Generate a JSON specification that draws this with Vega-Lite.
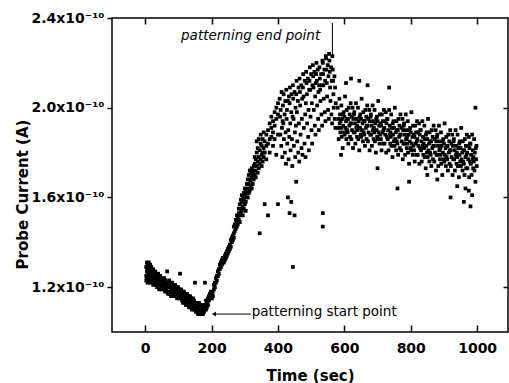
{
"$schema":"https://vega.github.io/schema/vega-lite/v6.json",
"width":396,"height":314,
"autosize":{"type":"none"},
"padding":{"left":112,"top":18,"right":1,"bottom":51},
"background":"white",
"config":{"view":{"stroke":"black","strokeWidth":1.5},"font":"DejaVu Sans"},
"datasets":{"probe":[
{"t":3,"i":1.29e-10},{"t":3,"i":1.25e-10},{"t":3,"i":1.23e-10},
{"t":5,"i":1.31e-10},{"t":5,"i":1.27e-10},{"t":5,"i":1.24e-10},
{"t":7,"i":1.28e-10},{"t":7,"i":1.30e-10},{"t":7,"i":1.22e-10},
{"t":9,"i":1.26e-10},{"t":9,"i":1.29e-10},{"t":9,"i":1.23e-10},
{"t":11,"i":1.31e-10},{"t":11,"i":1.25e-10},{"t":11,"i":1.27e-10},
{"t":13,"i":1.28e-10},{"t":13,"i":1.24e-10},{"t":13,"i":1.22e-10},
{"t":15,"i":1.30e-10},{"t":15,"i":1.26e-10},{"t":15,"i":1.23e-10},
{"t":18,"i":1.27e-10},{"t":18,"i":1.24e-10},{"t":18,"i":1.29e-10},
{"t":21,"i":1.25e-10},{"t":21,"i":1.22e-10},{"t":21,"i":1.27e-10},
{"t":24,"i":1.28e-10},{"t":24,"i":1.23e-10},{"t":24,"i":1.21e-10},
{"t":27,"i":1.26e-10},{"t":27,"i":1.24e-10},{"t":27,"i":1.22e-10},
{"t":30,"i":1.27e-10},{"t":30,"i":1.23e-10},{"t":30,"i":1.21e-10},
{"t":33,"i":1.25e-10},{"t":33,"i":1.22e-10},{"t":33,"i":1.26e-10},
{"t":36,"i":1.24e-10},{"t":36,"i":1.21e-10},{"t":36,"i":1.20e-10},
{"t":39,"i":1.26e-10},{"t":39,"i":1.23e-10},{"t":39,"i":1.22e-10},
{"t":42,"i":1.24e-10},{"t":42,"i":1.21e-10},{"t":42,"i":1.19e-10},
{"t":45,"i":1.25e-10},{"t":45,"i":1.22e-10},{"t":45,"i":1.23e-10},
{"t":48,"i":1.23e-10},{"t":48,"i":1.20e-10},{"t":48,"i":1.21e-10},
{"t":51,"i":1.24e-10},{"t":51,"i":1.22e-10},{"t":51,"i":1.19e-10},
{"t":54,"i":1.22e-10},{"t":54,"i":1.20e-10},{"t":54,"i":1.23e-10},
{"t":57,"i":1.21e-10},{"t":57,"i":1.24e-10},{"t":57,"i":1.19e-10},
{"t":60,"i":1.23e-10},{"t":60,"i":1.20e-10},{"t":60,"i":1.18e-10},
{"t":63,"i":1.22e-10},{"t":63,"i":1.19e-10},{"t":63,"i":1.21e-10},
{"t":66,"i":1.27e-10},{"t":66,"i":1.21e-10},{"t":66,"i":1.18e-10},
{"t":69,"i":1.22e-10},{"t":69,"i":1.20e-10},{"t":69,"i":1.17e-10},
{"t":72,"i":1.21e-10},{"t":72,"i":1.18e-10},{"t":72,"i":1.23e-10},
{"t":75,"i":1.20e-10},{"t":75,"i":1.17e-10},{"t":75,"i":1.22e-10},
{"t":78,"i":1.21e-10},{"t":78,"i":1.19e-10},{"t":78,"i":1.16e-10},
{"t":81,"i":1.20e-10},{"t":81,"i":1.18e-10},{"t":81,"i":1.22e-10},
{"t":84,"i":1.19e-10},{"t":84,"i":1.17e-10},{"t":84,"i":1.21e-10},
{"t":87,"i":1.20e-10},{"t":87,"i":1.16e-10},{"t":87,"i":1.18e-10},
{"t":90,"i":1.21e-10},{"t":90,"i":1.19e-10},{"t":90,"i":1.17e-10},
{"t":93,"i":1.18e-10},{"t":93,"i":1.16e-10},{"t":93,"i":1.20e-10},
{"t":96,"i":1.19e-10},{"t":96,"i":1.17e-10},{"t":96,"i":1.15e-10},
{"t":99,"i":1.20e-10},{"t":99,"i":1.18e-10},{"t":99,"i":1.16e-10},
{"t":102,"i":1.17e-10},{"t":102,"i":1.19e-10},{"t":102,"i":1.15e-10},
{"t":105,"i":1.26e-10},{"t":105,"i":1.18e-10},{"t":105,"i":1.16e-10},
{"t":108,"i":1.17e-10},{"t":108,"i":1.15e-10},{"t":108,"i":1.19e-10},
{"t":111,"i":1.18e-10},{"t":111,"i":1.16e-10},{"t":111,"i":1.14e-10},
{"t":114,"i":1.17e-10},{"t":114,"i":1.15e-10},{"t":114,"i":1.13e-10},
{"t":117,"i":1.16e-10},{"t":117,"i":1.18e-10},{"t":117,"i":1.14e-10},
{"t":120,"i":1.15e-10},{"t":120,"i":1.17e-10},{"t":120,"i":1.13e-10},
{"t":123,"i":1.16e-10},{"t":123,"i":1.14e-10},{"t":123,"i":1.12e-10},
{"t":126,"i":1.15e-10},{"t":126,"i":1.17e-10},{"t":126,"i":1.13e-10},
{"t":129,"i":1.14e-10},{"t":129,"i":1.16e-10},{"t":129,"i":1.12e-10},
{"t":132,"i":1.15e-10},{"t":132,"i":1.13e-10},{"t":132,"i":1.11e-10},
{"t":135,"i":1.14e-10},{"t":135,"i":1.12e-10},{"t":135,"i":1.16e-10},
{"t":138,"i":1.13e-10},{"t":138,"i":1.11e-10},{"t":138,"i":1.15e-10},
{"t":141,"i":1.14e-10},{"t":141,"i":1.12e-10},{"t":141,"i":1.10e-10},
{"t":144,"i":1.13e-10},{"t":144,"i":1.11e-10},{"t":144,"i":1.15e-10},
{"t":147,"i":1.12e-10},{"t":147,"i":1.10e-10},{"t":147,"i":1.14e-10},
{"t":150,"i":1.22e-10},{"t":150,"i":1.13e-10},{"t":150,"i":1.11e-10},
{"t":153,"i":1.12e-10},{"t":153,"i":1.10e-10},{"t":153,"i":1.09e-10},
{"t":156,"i":1.13e-10},{"t":156,"i":1.11e-10},{"t":156,"i":1.09e-10},
{"t":159,"i":1.12e-10},{"t":159,"i":1.10e-10},{"t":159,"i":1.08e-10},
{"t":162,"i":1.11e-10},{"t":162,"i":1.09e-10},{"t":162,"i":1.13e-10},
{"t":165,"i":1.10e-10},{"t":165,"i":1.08e-10},{"t":165,"i":1.12e-10},
{"t":168,"i":1.11e-10},{"t":168,"i":1.09e-10},{"t":168,"i":1.08e-10},
{"t":171,"i":1.10e-10},{"t":171,"i":1.08e-10},{"t":171,"i":1.12e-10},
{"t":174,"i":1.09e-10},{"t":174,"i":1.11e-10},{"t":174,"i":1.08e-10},
{"t":177,"i":1.10e-10},{"t":177,"i":1.09e-10},{"t":177,"i":1.12e-10},
{"t":180,"i":1.22e-10},{"t":180,"i":1.11e-10},{"t":180,"i":1.10e-10},
{"t":183,"i":1.12e-10},{"t":183,"i":1.10e-10},{"t":183,"i":1.14e-10},
{"t":186,"i":1.13e-10},{"t":186,"i":1.11e-10},
{"t":189,"i":1.15e-10},{"t":189,"i":1.12e-10},
{"t":192,"i":1.14e-10},{"t":192,"i":1.16e-10},
{"t":195,"i":1.15e-10},{"t":195,"i":1.17e-10},
{"t":198,"i":1.16e-10},{"t":198,"i":1.18e-10},
{"t":201,"i":1.17e-10},{"t":201,"i":1.15e-10},
{"t":204,"i":1.18e-10},{"t":204,"i":1.16e-10},
{"t":207,"i":1.19e-10},{"t":207,"i":1.21e-10},
{"t":210,"i":1.20e-10},{"t":210,"i":1.22e-10},
{"t":213,"i":1.22e-10},{"t":213,"i":1.24e-10},
{"t":216,"i":1.23e-10},{"t":216,"i":1.25e-10},
{"t":219,"i":1.25e-10},{"t":219,"i":1.27e-10},
{"t":222,"i":1.26e-10},{"t":222,"i":1.28e-10},
{"t":225,"i":1.28e-10},{"t":225,"i":1.30e-10},
{"t":228,"i":1.29e-10},{"t":228,"i":1.31e-10},
{"t":231,"i":1.30e-10},{"t":231,"i":1.32e-10},
{"t":234,"i":1.31e-10},{"t":234,"i":1.33e-10},
{"t":237,"i":1.33e-10},{"t":237,"i":1.31e-10},
{"t":240,"i":1.34e-10},{"t":240,"i":1.32e-10},
{"t":243,"i":1.35e-10},{"t":243,"i":1.33e-10},
{"t":246,"i":1.34e-10},{"t":246,"i":1.36e-10},
{"t":249,"i":1.37e-10},{"t":249,"i":1.35e-10},
{"t":252,"i":1.36e-10},{"t":252,"i":1.38e-10},
{"t":255,"i":1.39e-10},{"t":255,"i":1.37e-10},
{"t":258,"i":1.38e-10},{"t":258,"i":1.41e-10},
{"t":261,"i":1.40e-10},{"t":261,"i":1.42e-10},
{"t":264,"i":1.41e-10},{"t":264,"i":1.43e-10},
{"t":267,"i":1.44e-10},{"t":267,"i":1.42e-10},{"t":267,"i":1.47e-10},
{"t":270,"i":1.45e-10},{"t":270,"i":1.48e-10},
{"t":273,"i":1.46e-10},{"t":273,"i":1.50e-10},
{"t":276,"i":1.49e-10},{"t":276,"i":1.52e-10},{"t":276,"i":1.47e-10},
{"t":279,"i":1.51e-10},{"t":279,"i":1.48e-10},
{"t":282,"i":1.53e-10},{"t":282,"i":1.50e-10},{"t":282,"i":1.55e-10},
{"t":285,"i":1.52e-10},{"t":285,"i":1.57e-10},{"t":285,"i":1.49e-10},
{"t":288,"i":1.55e-10},{"t":288,"i":1.59e-10},{"t":288,"i":1.53e-10},
{"t":291,"i":1.58e-10},{"t":291,"i":1.54e-10},{"t":291,"i":1.61e-10},
{"t":294,"i":1.56e-10},{"t":294,"i":1.60e-10},{"t":294,"i":1.52e-10},
{"t":297,"i":1.59e-10},{"t":297,"i":1.62e-10},{"t":297,"i":1.55e-10},
{"t":300,"i":1.61e-10},{"t":300,"i":1.57e-10},{"t":300,"i":1.64e-10},
{"t":303,"i":1.58e-10},{"t":303,"i":1.63e-10},{"t":303,"i":1.54e-10},
{"t":306,"i":1.62e-10},{"t":306,"i":1.66e-10},{"t":306,"i":1.60e-10},
{"t":309,"i":1.64e-10},{"t":309,"i":1.60e-10},{"t":309,"i":1.68e-10},
{"t":312,"i":1.66e-10},{"t":312,"i":1.62e-10},{"t":312,"i":1.70e-10},
{"t":315,"i":1.63e-10},{"t":315,"i":1.68e-10},{"t":315,"i":1.72e-10},
{"t":318,"i":1.67e-10},{"t":318,"i":1.71e-10},{"t":318,"i":1.65e-10},
{"t":321,"i":1.69e-10},{"t":321,"i":1.73e-10},{"t":321,"i":1.64e-10},
{"t":324,"i":1.72e-10},{"t":324,"i":1.66e-10},{"t":324,"i":1.70e-10},
{"t":327,"i":1.68e-10},{"t":327,"i":1.74e-10},{"t":327,"i":1.71e-10},
{"t":330,"i":1.75e-10},{"t":330,"i":1.70e-10},{"t":330,"i":1.78e-10},
{"t":333,"i":1.72e-10},{"t":333,"i":1.77e-10},{"t":333,"i":1.69e-10},
{"t":336,"i":1.80e-10},{"t":336,"i":1.74e-10},{"t":336,"i":1.85e-10},
{"t":339,"i":1.76e-10},{"t":339,"i":1.82e-10},{"t":339,"i":1.71e-10},
{"t":342,"i":1.78e-10},{"t":342,"i":1.86e-10},{"t":342,"i":1.73e-10},
{"t":345,"i":1.81e-10},{"t":345,"i":1.75e-10},{"t":345,"i":1.44e-10},
{"t":348,"i":1.84e-10},{"t":348,"i":1.77e-10},{"t":348,"i":1.88e-10},
{"t":351,"i":1.79e-10},{"t":351,"i":1.83e-10},{"t":351,"i":1.74e-10},
{"t":354,"i":1.86e-10},{"t":354,"i":1.80e-10},{"t":354,"i":1.76e-10},
{"t":357,"i":1.82e-10},{"t":357,"i":1.89e-10},{"t":357,"i":1.78e-10},
{"t":360,"i":1.85e-10},{"t":360,"i":1.80e-10},{"t":360,"i":1.57e-10},
{"t":365,"i":1.88e-10},{"t":365,"i":1.83e-10},{"t":365,"i":1.77e-10},
{"t":370,"i":1.90e-10},{"t":370,"i":1.84e-10},{"t":370,"i":1.52e-10},
{"t":375,"i":1.86e-10},{"t":375,"i":1.93e-10},{"t":375,"i":1.80e-10},
{"t":380,"i":1.91e-10},{"t":380,"i":1.87e-10},{"t":380,"i":1.96e-10},
{"t":385,"i":1.94e-10},{"t":385,"i":1.89e-10},{"t":385,"i":1.83e-10},
{"t":390,"i":1.98e-10},{"t":390,"i":1.92e-10},{"t":390,"i":1.86e-10},
{"t":395,"i":1.95e-10},{"t":395,"i":2.00e-10},{"t":395,"i":1.79e-10},
{"t":400,"i":2.02e-10},{"t":400,"i":1.97e-10},{"t":400,"i":1.57e-10},{"t":400,"i":1.88e-10},
{"t":405,"i":2.04e-10},{"t":406,"i":1.96e-10},{"t":407,"i":1.88e-10},{"t":408,"i":1.99e-10},{"t":410,"i":1.83e-10},{"t":411,"i":2.07e-10},{"t":412,"i":1.91e-10},{"t":413,"i":1.78e-10},{"t":414,"i":1.94e-10},
{"t":415,"i":2.01e-10},{"t":416,"i":1.93e-10},{"t":417,"i":2.06e-10},{"t":418,"i":1.86e-10},{"t":420,"i":1.97e-10},{"t":421,"i":1.80e-10},{"t":422,"i":2.03e-10},{"t":423,"i":1.89e-10},{"t":424,"i":1.75e-10},
{"t":425,"i":2.08e-10},{"t":426,"i":1.95e-10},{"t":427,"i":1.99e-10},{"t":428,"i":1.84e-10},{"t":430,"i":2.03e-10},{"t":431,"i":1.90e-10},{"t":432,"i":1.77e-10},{"t":433,"i":2.05e-10},{"t":434,"i":1.87e-10},
{"t":435,"i":2.02e-10},{"t":436,"i":2.09e-10},{"t":437,"i":1.93e-10},{"t":438,"i":1.81e-10},{"t":440,"i":1.98e-10},{"t":441,"i":2.06e-10},{"t":442,"i":1.86e-10},{"t":443,"i":1.74e-10},{"t":444,"i":1.96e-10},
{"t":445,"i":2.10e-10},{"t":446,"i":2.04e-10},{"t":447,"i":1.95e-10},{"t":448,"i":1.83e-10},{"t":450,"i":2.07e-10},{"t":451,"i":1.89e-10},{"t":452,"i":1.78e-10},{"t":453,"i":2.00e-10},{"t":454,"i":1.92e-10},
{"t":455,"i":2.06e-10},{"t":456,"i":2.12e-10},{"t":457,"i":1.98e-10},{"t":458,"i":1.85e-10},{"t":460,"i":2.03e-10},{"t":461,"i":1.80e-10},{"t":462,"i":2.09e-10},{"t":463,"i":1.93e-10},{"t":464,"i":1.76e-10},
{"t":465,"i":2.13e-10},{"t":466,"i":2.07e-10},{"t":467,"i":2.01e-10},{"t":468,"i":1.88e-10},{"t":470,"i":2.10e-10},{"t":471,"i":1.82e-10},{"t":472,"i":1.95e-10},{"t":473,"i":2.04e-10},{"t":474,"i":1.79e-10},
{"t":475,"i":2.09e-10},{"t":476,"i":2.15e-10},{"t":477,"i":2.05e-10},{"t":478,"i":1.91e-10},{"t":480,"i":1.84e-10},{"t":481,"i":2.12e-10},{"t":482,"i":1.97e-10},{"t":483,"i":1.78e-10},{"t":484,"i":2.02e-10},
{"t":485,"i":2.16e-10},{"t":486,"i":2.11e-10},{"t":487,"i":2.06e-10},{"t":488,"i":1.93e-10},{"t":490,"i":2.13e-10},{"t":491,"i":1.87e-10},{"t":492,"i":1.99e-10},{"t":493,"i":1.81e-10},{"t":494,"i":2.08e-10},
{"t":495,"i":2.12e-10},{"t":496,"i":2.18e-10},{"t":497,"i":2.08e-10},{"t":498,"i":1.96e-10},{"t":500,"i":2.15e-10},{"t":501,"i":1.90e-10},{"t":502,"i":2.02e-10},{"t":503,"i":1.84e-10},{"t":504,"i":2.10e-10},
{"t":505,"i":2.19e-10},{"t":506,"i":2.14e-10},{"t":507,"i":2.09e-10},{"t":508,"i":1.99e-10},{"t":510,"i":2.16e-10},{"t":511,"i":1.92e-10},{"t":512,"i":2.05e-10},{"t":513,"i":1.88e-10},{"t":514,"i":2.11e-10},
{"t":515,"i":2.15e-10},{"t":516,"i":2.20e-10},{"t":517,"i":2.12e-10},{"t":518,"i":2.01e-10},{"t":520,"i":2.17e-10},{"t":521,"i":1.95e-10},{"t":522,"i":2.07e-10},{"t":523,"i":1.90e-10},{"t":524,"i":2.10e-10},
{"t":525,"i":2.18e-10},{"t":526,"i":2.13e-10},{"t":527,"i":2.08e-10},{"t":528,"i":2.03e-10},{"t":530,"i":2.15e-10},{"t":531,"i":1.97e-10},{"t":532,"i":2.10e-10},{"t":533,"i":1.92e-10},{"t":534,"i":2.21e-10},
{"t":535,"i":2.20e-10},{"t":536,"i":2.15e-10},{"t":537,"i":2.10e-10},{"t":538,"i":2.04e-10},{"t":540,"i":2.17e-10},{"t":541,"i":1.98e-10},{"t":542,"i":2.12e-10},{"t":543,"i":1.94e-10},{"t":544,"i":2.23e-10},
{"t":545,"i":2.22e-10},{"t":546,"i":2.17e-10},{"t":547,"i":2.11e-10},{"t":548,"i":2.05e-10},{"t":550,"i":2.19e-10},{"t":551,"i":1.99e-10},{"t":552,"i":2.14e-10},{"t":553,"i":1.95e-10},{"t":554,"i":2.24e-10},
{"t":555,"i":2.21e-10},{"t":556,"i":2.16e-10},{"t":557,"i":2.09e-10},{"t":558,"i":2.03e-10},{"t":560,"i":2.18e-10},{"t":561,"i":1.97e-10},{"t":562,"i":2.12e-10},{"t":563,"i":1.93e-10},{"t":564,"i":2.23e-10},
{"t":565,"i":2.17e-10},{"t":566,"i":2.12e-10},{"t":567,"i":2.06e-10},{"t":568,"i":2.00e-10},{"t":570,"i":2.14e-10},{"t":571,"i":1.95e-10},{"t":572,"i":2.09e-10},{"t":573,"i":1.91e-10},{"t":574,"i":2.02e-10},
{"t":430,"i":1.60e-10},{"t":435,"i":1.53e-10},{"t":440,"i":1.58e-10},{"t":445,"i":1.29e-10},{"t":450,"i":1.52e-10},{"t":455,"i":1.67e-10},{"t":535,"i":1.53e-10},{"t":535,"i":1.47e-10},
{"t":580,"i":2.00e-10},{"t":581,"i":1.91e-10},{"t":582,"i":1.95e-10},{"t":583,"i":1.86e-10},{"t":585,"i":2.04e-10},{"t":586,"i":1.93e-10},{"t":587,"i":1.97e-10},{"t":588,"i":1.89e-10},{"t":589,"i":1.94e-10},
{"t":590,"i":1.91e-10},{"t":591,"i":2.01e-10},{"t":592,"i":1.87e-10},{"t":593,"i":1.95e-10},{"t":595,"i":1.82e-10},{"t":596,"i":1.97e-10},{"t":597,"i":1.92e-10},{"t":598,"i":1.98e-10},{"t":599,"i":1.89e-10},
{"t":600,"i":1.96e-10},{"t":601,"i":1.88e-10},{"t":602,"i":2.05e-10},{"t":603,"i":1.91e-10},{"t":605,"i":1.94e-10},{"t":606,"i":1.86e-10},{"t":607,"i":1.99e-10},{"t":608,"i":1.90e-10},{"t":609,"i":1.95e-10},
{"t":610,"i":1.89e-10},{"t":611,"i":1.95e-10},{"t":612,"i":1.84e-10},{"t":613,"i":2.00e-10},{"t":615,"i":1.92e-10},{"t":616,"i":1.97e-10},{"t":617,"i":1.87e-10},{"t":618,"i":1.93e-10},{"t":619,"i":2.02e-10},
{"t":620,"i":1.93e-10},{"t":621,"i":1.86e-10},{"t":622,"i":1.96e-10},{"t":623,"i":1.90e-10},{"t":625,"i":2.00e-10},{"t":626,"i":1.82e-10},{"t":627,"i":1.95e-10},{"t":628,"i":1.89e-10},{"t":629,"i":1.97e-10},
{"t":630,"i":1.98e-10},{"t":631,"i":1.89e-10},{"t":632,"i":1.93e-10},{"t":633,"i":1.84e-10},{"t":635,"i":2.02e-10},{"t":636,"i":1.91e-10},{"t":637,"i":1.95e-10},{"t":638,"i":1.87e-10},{"t":639,"i":1.92e-10},
{"t":640,"i":1.90e-10},{"t":641,"i":2.00e-10},{"t":642,"i":1.86e-10},{"t":643,"i":1.94e-10},{"t":645,"i":1.81e-10},{"t":646,"i":1.96e-10},{"t":647,"i":1.91e-10},{"t":648,"i":1.97e-10},{"t":649,"i":1.88e-10},
{"t":650,"i":1.95e-10},{"t":651,"i":1.87e-10},{"t":652,"i":2.04e-10},{"t":653,"i":1.90e-10},{"t":655,"i":1.93e-10},{"t":656,"i":1.85e-10},{"t":657,"i":1.98e-10},{"t":658,"i":1.89e-10},{"t":659,"i":1.94e-10},
{"t":660,"i":1.88e-10},{"t":661,"i":1.94e-10},{"t":662,"i":1.83e-10},{"t":663,"i":1.99e-10},{"t":665,"i":1.91e-10},{"t":666,"i":1.96e-10},{"t":667,"i":1.86e-10},{"t":668,"i":1.92e-10},{"t":669,"i":2.01e-10},
{"t":670,"i":1.92e-10},{"t":671,"i":1.85e-10},{"t":672,"i":1.95e-10},{"t":673,"i":1.89e-10},{"t":675,"i":1.99e-10},{"t":676,"i":1.81e-10},{"t":677,"i":1.94e-10},{"t":678,"i":1.88e-10},{"t":679,"i":1.96e-10},
{"t":680,"i":1.97e-10},{"t":681,"i":1.88e-10},{"t":682,"i":1.92e-10},{"t":683,"i":1.83e-10},{"t":685,"i":2.01e-10},{"t":686,"i":1.90e-10},{"t":687,"i":1.94e-10},{"t":688,"i":1.86e-10},{"t":689,"i":1.91e-10},
{"t":690,"i":1.89e-10},{"t":691,"i":1.99e-10},{"t":692,"i":1.85e-10},{"t":693,"i":1.93e-10},{"t":695,"i":1.80e-10},{"t":696,"i":1.95e-10},{"t":697,"i":1.90e-10},{"t":698,"i":1.96e-10},{"t":699,"i":1.87e-10},
{"t":700,"i":1.94e-10},{"t":701,"i":1.86e-10},{"t":702,"i":2.03e-10},{"t":703,"i":1.89e-10},{"t":705,"i":1.92e-10},{"t":706,"i":1.84e-10},{"t":707,"i":1.97e-10},{"t":708,"i":1.88e-10},{"t":709,"i":1.93e-10},
{"t":710,"i":1.86e-10},{"t":711,"i":1.92e-10},{"t":712,"i":1.81e-10},{"t":713,"i":1.97e-10},{"t":715,"i":1.89e-10},{"t":716,"i":1.94e-10},{"t":717,"i":1.84e-10},{"t":718,"i":1.90e-10},{"t":719,"i":1.99e-10},
{"t":720,"i":1.91e-10},{"t":721,"i":1.84e-10},{"t":722,"i":1.94e-10},{"t":723,"i":1.88e-10},{"t":725,"i":1.98e-10},{"t":726,"i":1.80e-10},{"t":727,"i":1.93e-10},{"t":728,"i":1.87e-10},{"t":729,"i":1.95e-10},
{"t":730,"i":1.95e-10},{"t":731,"i":1.86e-10},{"t":732,"i":1.90e-10},{"t":733,"i":1.81e-10},{"t":735,"i":1.99e-10},{"t":736,"i":1.88e-10},{"t":737,"i":1.92e-10},{"t":738,"i":1.84e-10},{"t":739,"i":1.89e-10},
{"t":740,"i":1.87e-10},{"t":741,"i":1.97e-10},{"t":742,"i":1.83e-10},{"t":743,"i":1.91e-10},{"t":745,"i":1.78e-10},{"t":746,"i":1.93e-10},{"t":747,"i":1.88e-10},{"t":748,"i":1.94e-10},{"t":749,"i":1.85e-10},
{"t":750,"i":1.91e-10},{"t":751,"i":1.83e-10},{"t":752,"i":2.00e-10},{"t":753,"i":1.86e-10},{"t":755,"i":1.89e-10},{"t":756,"i":1.81e-10},{"t":757,"i":1.94e-10},{"t":758,"i":1.85e-10},{"t":759,"i":1.90e-10},
{"t":760,"i":1.84e-10},{"t":761,"i":1.90e-10},{"t":762,"i":1.79e-10},{"t":763,"i":1.95e-10},{"t":765,"i":1.87e-10},{"t":766,"i":1.92e-10},{"t":767,"i":1.82e-10},{"t":768,"i":1.88e-10},{"t":769,"i":1.97e-10},
{"t":770,"i":1.88e-10},{"t":771,"i":1.81e-10},{"t":772,"i":1.91e-10},{"t":773,"i":1.85e-10},{"t":775,"i":1.95e-10},{"t":776,"i":1.77e-10},{"t":777,"i":1.90e-10},{"t":778,"i":1.84e-10},{"t":779,"i":1.92e-10},
{"t":780,"i":1.93e-10},{"t":781,"i":1.84e-10},{"t":782,"i":1.88e-10},{"t":783,"i":1.79e-10},{"t":785,"i":1.97e-10},{"t":786,"i":1.86e-10},{"t":787,"i":1.90e-10},{"t":788,"i":1.82e-10},{"t":789,"i":1.87e-10},
{"t":790,"i":1.84e-10},{"t":791,"i":1.94e-10},{"t":792,"i":1.80e-10},{"t":793,"i":1.88e-10},{"t":795,"i":1.75e-10},{"t":796,"i":1.90e-10},{"t":797,"i":1.85e-10},{"t":798,"i":1.91e-10},{"t":799,"i":1.82e-10},
{"t":800,"i":1.89e-10},{"t":801,"i":1.81e-10},{"t":802,"i":1.98e-10},{"t":803,"i":1.84e-10},{"t":805,"i":1.87e-10},{"t":806,"i":1.79e-10},{"t":807,"i":1.92e-10},{"t":808,"i":1.83e-10},{"t":809,"i":1.88e-10},
{"t":810,"i":1.81e-10},{"t":811,"i":1.87e-10},{"t":812,"i":1.76e-10},{"t":813,"i":1.92e-10},{"t":815,"i":1.84e-10},{"t":816,"i":1.89e-10},{"t":817,"i":1.79e-10},{"t":818,"i":1.85e-10},{"t":819,"i":1.94e-10},
{"t":820,"i":1.86e-10},{"t":821,"i":1.79e-10},{"t":822,"i":1.89e-10},{"t":823,"i":1.83e-10},{"t":825,"i":1.93e-10},{"t":826,"i":1.75e-10},{"t":827,"i":1.88e-10},{"t":828,"i":1.82e-10},{"t":829,"i":1.90e-10},
{"t":830,"i":1.90e-10},{"t":831,"i":1.81e-10},{"t":832,"i":1.85e-10},{"t":833,"i":1.76e-10},{"t":835,"i":1.94e-10},{"t":836,"i":1.83e-10},{"t":837,"i":1.87e-10},{"t":838,"i":1.79e-10},{"t":839,"i":1.84e-10},
{"t":840,"i":1.82e-10},{"t":841,"i":1.92e-10},{"t":842,"i":1.78e-10},{"t":843,"i":1.86e-10},{"t":845,"i":1.73e-10},{"t":846,"i":1.88e-10},{"t":847,"i":1.83e-10},{"t":848,"i":1.89e-10},{"t":849,"i":1.80e-10},
{"t":850,"i":1.86e-10},{"t":851,"i":1.78e-10},{"t":852,"i":1.95e-10},{"t":853,"i":1.81e-10},{"t":855,"i":1.84e-10},{"t":856,"i":1.76e-10},{"t":857,"i":1.89e-10},{"t":858,"i":1.80e-10},{"t":859,"i":1.85e-10},
{"t":860,"i":1.79e-10},{"t":861,"i":1.85e-10},{"t":862,"i":1.74e-10},{"t":863,"i":1.90e-10},{"t":865,"i":1.82e-10},{"t":866,"i":1.87e-10},{"t":867,"i":1.77e-10},{"t":868,"i":1.83e-10},{"t":869,"i":1.92e-10},
{"t":870,"i":1.83e-10},{"t":871,"i":1.76e-10},{"t":872,"i":1.86e-10},{"t":873,"i":1.80e-10},{"t":875,"i":1.90e-10},{"t":876,"i":1.72e-10},{"t":877,"i":1.85e-10},{"t":878,"i":1.79e-10},{"t":879,"i":1.87e-10},
{"t":880,"i":1.88e-10},{"t":881,"i":1.79e-10},{"t":882,"i":1.83e-10},{"t":883,"i":1.74e-10},{"t":885,"i":1.92e-10},{"t":886,"i":1.81e-10},{"t":887,"i":1.85e-10},{"t":888,"i":1.77e-10},{"t":889,"i":1.82e-10},
{"t":890,"i":1.79e-10},{"t":891,"i":1.89e-10},{"t":892,"i":1.75e-10},{"t":893,"i":1.83e-10},{"t":895,"i":1.70e-10},{"t":896,"i":1.85e-10},{"t":897,"i":1.80e-10},{"t":898,"i":1.86e-10},{"t":899,"i":1.77e-10},
{"t":900,"i":1.84e-10},{"t":901,"i":1.76e-10},{"t":902,"i":1.93e-10},{"t":903,"i":1.79e-10},{"t":905,"i":1.82e-10},{"t":906,"i":1.74e-10},{"t":907,"i":1.87e-10},{"t":908,"i":1.78e-10},{"t":909,"i":1.83e-10},
{"t":910,"i":1.77e-10},{"t":911,"i":1.83e-10},{"t":912,"i":1.72e-10},{"t":913,"i":1.88e-10},{"t":915,"i":1.80e-10},{"t":916,"i":1.85e-10},{"t":917,"i":1.75e-10},{"t":918,"i":1.81e-10},{"t":919,"i":1.90e-10},
{"t":920,"i":1.81e-10},{"t":921,"i":1.74e-10},{"t":922,"i":1.84e-10},{"t":923,"i":1.78e-10},{"t":925,"i":1.88e-10},{"t":926,"i":1.70e-10},{"t":927,"i":1.83e-10},{"t":928,"i":1.77e-10},{"t":929,"i":1.85e-10},
{"t":930,"i":1.86e-10},{"t":931,"i":1.77e-10},{"t":932,"i":1.81e-10},{"t":933,"i":1.72e-10},{"t":935,"i":1.90e-10},{"t":936,"i":1.79e-10},{"t":937,"i":1.83e-10},{"t":938,"i":1.75e-10},{"t":939,"i":1.80e-10},
{"t":940,"i":1.78e-10},{"t":941,"i":1.88e-10},{"t":942,"i":1.74e-10},{"t":943,"i":1.82e-10},{"t":945,"i":1.69e-10},{"t":946,"i":1.84e-10},{"t":947,"i":1.79e-10},{"t":948,"i":1.85e-10},{"t":949,"i":1.76e-10},
{"t":950,"i":1.82e-10},{"t":951,"i":1.74e-10},{"t":952,"i":1.91e-10},{"t":953,"i":1.77e-10},{"t":955,"i":1.80e-10},{"t":956,"i":1.72e-10},{"t":957,"i":1.85e-10},{"t":958,"i":1.76e-10},{"t":959,"i":1.81e-10},
{"t":960,"i":1.75e-10},{"t":961,"i":1.81e-10},{"t":962,"i":1.70e-10},{"t":963,"i":1.86e-10},{"t":965,"i":1.78e-10},{"t":966,"i":1.83e-10},{"t":967,"i":1.73e-10},{"t":968,"i":1.79e-10},{"t":969,"i":1.88e-10},
{"t":970,"i":1.80e-10},{"t":971,"i":1.73e-10},{"t":972,"i":1.83e-10},{"t":973,"i":1.77e-10},{"t":975,"i":1.87e-10},{"t":976,"i":1.69e-10},{"t":977,"i":1.82e-10},{"t":978,"i":1.76e-10},{"t":979,"i":1.84e-10},
{"t":980,"i":1.84e-10},{"t":981,"i":1.75e-10},{"t":982,"i":1.79e-10},{"t":983,"i":1.70e-10},{"t":985,"i":1.88e-10},{"t":986,"i":1.77e-10},{"t":987,"i":1.81e-10},{"t":988,"i":1.73e-10},{"t":989,"i":1.78e-10},
{"t":990,"i":1.76e-10},{"t":991,"i":1.86e-10},{"t":992,"i":1.72e-10},{"t":993,"i":1.80e-10},{"t":995,"i":1.67e-10},{"t":996,"i":1.82e-10},{"t":997,"i":1.77e-10},{"t":998,"i":1.83e-10},{"t":999,"i":1.74e-10},
{"t":590,"i":1.79e-10},{"t":605,"i":2.11e-10},{"t":620,"i":2.13e-10},{"t":645,"i":2.12e-10},{"t":670,"i":2.10e-10},{"t":700,"i":1.73e-10},{"t":735,"i":2.09e-10},{"t":760,"i":1.64e-10},{"t":795,"i":1.67e-10},{"t":850,"i":1.70e-10},{"t":880,"i":1.68e-10},{"t":920,"i":1.60e-10},{"t":940,"i":1.65e-10},{"t":960,"i":1.58e-10},{"t":965,"i":1.64e-10},{"t":975,"i":1.63e-10},{"t":980,"i":1.56e-10},{"t":985,"i":1.61e-10},{"t":995,"i":2.00e-10}
]},
"layer":[
{"data":{"name":"probe"},
 "mark":{"type":"square","filled":true,"color":"black","size":14,"opacity":1},
 "encoding":{
  "x":{"field":"t","type":"quantitative","scale":{"domain":[-100,1093],"nice":false,"zero":false},
   "axis":{"orient":"bottom","values":[0,200,400,600,800,1000],"format":"d","domain":false,"grid":false,"tickSize":-7,"tickWidth":1.5,"tickColor":"black","labelFont":"DejaVu Sans","labelFontWeight":"bold","labelFontSize":14,"labelColor":"black","labelPadding":16,"title":"Time (sec)","titleFont":"DejaVu Sans","titleFontWeight":"bold","titleFontSize":15,"titleColor":"black","titleY":36,"titleBaseline":"top"}},
  "y":{"field":"i","type":"quantitative","scale":{"domain":[1.0e-10,2.4e-10],"nice":false,"zero":false},
   "axis":{"orient":"left","values":[1.2e-10,1.6e-10,2.0e-10,2.4e-10],"domain":false,"grid":false,"tickSize":5,"tickWidth":1.5,"tickColor":"black","labelExpr":"format(datum.value*1e10,'.1f') + 'x10⁻¹⁰'","labelFont":"DejaVu Sans","labelFontWeight":"bold","labelFontSize":14,"labelColor":"black","labelPadding":3,"title":"Probe Current (A)","titleFont":"DejaVu Sans","titleFontWeight":"bold","titleFontSize":15,"titleColor":"black","titleAngle":-90,"titleX":-90,"titleY":176,"titleAlign":"center","titleBaseline":"middle"}}}},
{"data":{"values":[{}]},
 "mark":{"type":"point","opacity":0},
 "encoding":{
  "x":{"datum":0,"type":"quantitative","axis":{"orient":"top","values":[0,200,400,600,800,1000],"domain":false,"grid":false,"labels":false,"tickSize":-6,"tickWidth":1.5,"tickColor":"black","title":null}},
  "y":{"datum":1.5e-10,"type":"quantitative","axis":{"orient":"right","values":[1.2e-10,1.6e-10,2.0e-10],"domain":false,"grid":false,"labels":false,"tickSize":-5,"tickWidth":1.5,"tickColor":"black","title":null}}}},
{"data":{"values":[{}]},
 "mark":{"type":"rule","color":"black","strokeWidth":1},
 "encoding":{"x":{"datum":564,"type":"quantitative","axis":null},"y":{"datum":2.378e-10,"type":"quantitative","axis":null},"y2":{"datum":2.227e-10}}},
{"data":{"values":[{}]},
 "mark":{"type":"text","align":"left","baseline":"alphabetic","font":"DejaVu Sans","fontStyle":"italic","fontSize":13.5,"color":"black"},
 "encoding":{"x":{"datum":108,"type":"quantitative","axis":null},"y":{"datum":2.302e-10,"type":"quantitative","axis":null},"text":{"value":"patterning end point"}}},
{"data":{"values":[{}]},
 "mark":{"type":"rule","color":"black","strokeWidth":1},
 "encoding":{"x":{"datum":209,"type":"quantitative","axis":null},"x2":{"datum":318},"y":{"datum":1.08e-10,"type":"quantitative","axis":null}}},
{"data":{"values":[{}]},
 "mark":{"type":"point","shape":"triangle-left","filled":true,"color":"black","size":22,"opacity":1},
 "encoding":{"x":{"datum":207,"type":"quantitative","axis":null},"y":{"datum":1.08e-10,"type":"quantitative","axis":null}}},
{"data":{"values":[{}]},
 "mark":{"type":"text","align":"left","baseline":"alphabetic","font":"DejaVu Sans","fontSize":13.5,"color":"black"},
 "encoding":{"x":{"datum":321,"type":"quantitative","axis":null},"y":{"datum":1.072e-10,"type":"quantitative","axis":null},"text":{"value":"patterning start point"}}}
],
"resolve":{"axis":{"x":"independent","y":"independent"}}
}
